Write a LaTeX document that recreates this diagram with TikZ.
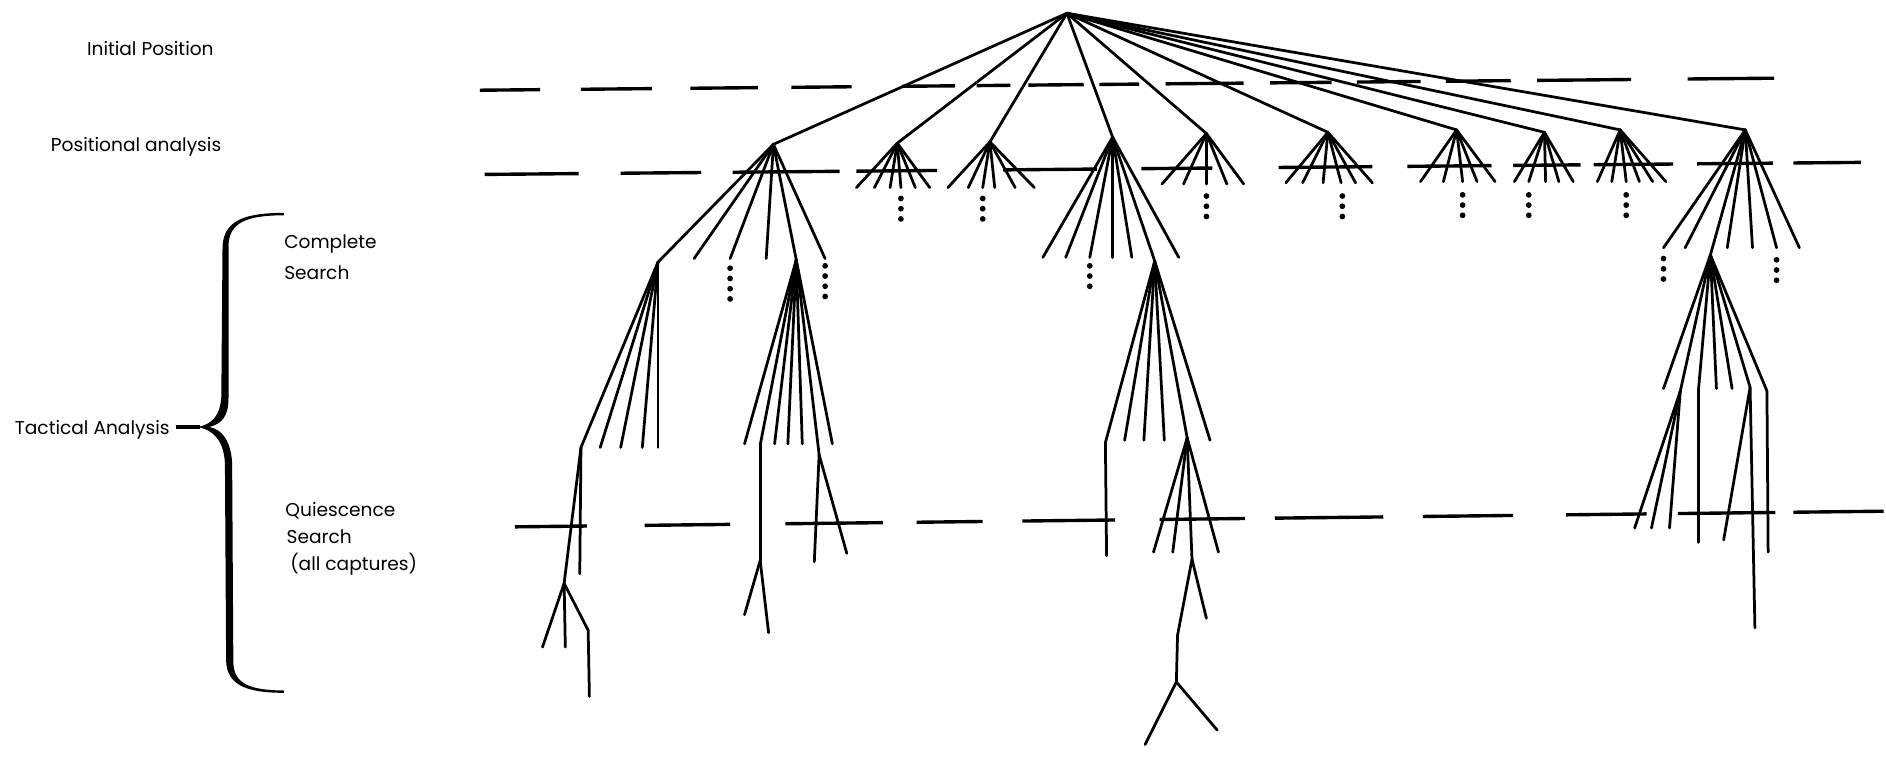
\documentclass[tikz,border=0pt]{standalone}
\usepackage{fontspec}
\setmainfont{Poppins}
\newcommand\myfan[4]{%
  \foreach \xx [count=\ii] in {#4} {\coordinate (#2\ii) at (\xx,#3); \draw[edge] (#1) -- (#2\ii);}}
\newcommand\vd[3]{%
  \foreach \kk in {1,...,#3} {\fill ({#1},{#2+8.5*(\kk-1)}) circle[radius=0.048cm];}}
\begin{document}
\begin{tikzpicture}[x=0.02cm,y=-0.02cm,
  edge/.style={line width=1.3pt, line cap=round, line join=round},
  dashseg/.style={line width=1.6pt},
  lbl/.style={font=\fontsize{8.8}{10}\selectfont, inner sep=0pt, anchor=west}]
\useasboundingbox (0,0) rectangle (1568,633);

% ---------- labels ----------
\node[lbl] (tinit) at (72,40) {Initial Position};
\node[lbl] (tpos) at (42,122) {Positional analysis};
\node[lbl, align=left, font=\fontsize{8.8}{14.7}\selectfont] (tcomp) at (236,214) {Complete\\Search};
\node[lbl] (ttac) at (12,357) {Tactical Analysis};
\node[lbl, align=left, font=\fontsize{8.8}{12.8}\selectfont] (tquie) at (237,448) {Quiescence\\\hspace{0.02cm}Search\\\hspace{0.08cm}(all captures)};

% ---------- brace ----------
\fill (236,177) .. controls (204,177) and (186,183) .. (185,205)
 -- (184,330) .. controls (183,346) and (176,353) .. (164,355)
 .. controls (177,357) and (186,366) .. (187,385)
 -- (188,550) .. controls (189,569) and (204,576) .. (236,576)
 -- (236,574) .. controls (207,574) and (194,568) .. (194,550)
 -- (193,385) .. controls (192,367) and (185,357) .. (174,355)
 .. controls (185,352) and (190,346) .. (190,330)
 -- (190,205) .. controls (190,185) and (205,179) .. (236,179) -- cycle;
\coordinate (bs) at (146,355);
\coordinate (bt) at (166,355);
\draw[line width=1.5pt] (bs) -- (bt);

% ---------- dashed level lines ----------
\foreach \a/\b in {399/449,483/542,574/630,658/708,750/794,812/840,855/901,914/947,969/1034,1056/1107,1128/1181,1202/1256,1278/1356,1403/1475}
  \draw[dashseg] (\a,{75-10*(\a-399)/1076}) -- (\b,{75-10*(\b-399)/1076});
\foreach \a/\b in {403/481,516/583,609/698,712/779,834/912,949/1008,1063/1141,1170/1240,1258/1314,1325/1391,1411/1474,1491/1547}
  \draw[dashseg] (\a,{145-10*(\a-403)/1144}) -- (\b,{145-10*(\b-403)/1144});
\foreach \a/\b in {428/488,536/607,653/734,762/817,850/927,964/1035,1060/1150,1183/1258,1302/1369,1395/1476,1491/1566}
  \draw[dashseg] (\a,{438-13*(\a-428)/1138}) -- (\b,{438-13*(\b-428)/1138});

% ---------- tree ----------
\coordinate (R) at (887,11);
\coordinate (A1) at (643,120);
\coordinate (A2) at (746,119);
\coordinate (A3) at (823,118);
\coordinate (A4) at (925,114);
\coordinate (A5) at (1003,111);
\coordinate (A6) at (1104,110);
\coordinate (A7) at (1211,108);
\coordinate (A8) at (1284,110);
\coordinate (A9) at (1347,108);
\coordinate (A10) at (1451,108);
\foreach \n in {A1,A2,A3,A4,A5,A6,A7,A8,A9,A10} \draw[edge] (R) -- (\n);

% small fans
\myfan{A2}{A2l}{156}{712,727,740,749,761,773}
\vd{749}{165}{3}
\myfan{A3}{A3l}{156}{788,805,817,827,844,860}
\vd{817}{165}{3}
\myfan{A5}{A5l}{153}{966,984,1003,1020,1034}
\vd{1003}{163}{3}
\myfan{A6}{A6l}{152}{1069,1083,1100,1115,1127,1141}
\vd{1116}{163}{3}
\myfan{A7}{A7l}{151}{1181,1200,1216,1228,1243}
\vd{1216}{162}{3}
\myfan{A8}{A8l}{151}{1259,1271,1285,1296,1308}
\vd{1271}{162}{3}
\myfan{A9}{A9l}{151}{1328,1340,1352,1363,1374,1385}
\vd{1352}{162}{3}

% A1 subtree
\coordinate (B1) at (547,218);
\coordinate (B2) at (662,216);
\draw[edge] (A1) -- (B1);
\draw[edge] (A1) -- (B2);
\myfan{A1}{A1l}{215}{577,607,637,686}
\vd{607}{223}{4}
\vd{686}{221}{4}
\coordinate (C1) at (483,372);
\draw[edge] (B1) -- (C1);
\myfan{B1}{B1l}{372}{499,516,534,547}
\coordinate (D1) at (469,485);
\coordinate (C1l) at (482,477);
\draw[edge] (C1) -- (D1);
\draw[edge] (C1) -- (C1l);
\coordinate (F1) at (489,524);
\coordinate (F1l) at (490,579);
\draw[edge] (D1) -- (F1) -- (F1l);
\myfan{D1}{D1l}{538}{451,470}
\coordinate (C2) at (632,370);
\coordinate (C3) at (681,378);
\draw[edge] (B2) -- (C2);
\draw[edge] (B2) -- (C3);
\myfan{B2}{B2l}{369}{619,644,655,667,692}
\coordinate (D2) at (632,466);
\draw[edge] (C2) -- (D2);
\coordinate (D2a) at (619,511);
\coordinate (D2b) at (639,526);
\draw[edge] (D2) -- (D2a);
\draw[edge] (D2) -- (D2b);
\coordinate (C3a) at (677,467);
\coordinate (C3b) at (704,460);
\draw[edge] (C3) -- (C3a);
\draw[edge] (C3) -- (C3b);

% A4 subtree
\coordinate (B3) at (960,217);
\draw[edge] (A4) -- (B3);
\myfan{A4}{A4l}{214}{867,886,906,925,941,980}
\vd{906}{221}{3}
\coordinate (C4) at (919,368);
\coordinate (C5) at (987,364);
\draw[edge] (B3) -- (C4);
\draw[edge] (B3) -- (C5);
\myfan{B3}{B3l}{366}{935,951,968,1006}
\coordinate (C4l) at (920,462);
\draw[edge] (C4) -- (C4l);
\coordinate (D5) at (991,465);
\draw[edge] (C5) -- (D5);
\myfan{C5}{C5l}{459}{959,975,1013}
\coordinate (D5a) at (1003,514);
\coordinate (G) at (979,528);
\coordinate (E) at (978,567);
\draw[edge] (D5) -- (D5a);
\draw[edge] (D5) -- (G) -- (E);
\coordinate (Ea) at (952,619);
\coordinate (Eb) at (1012,607);
\draw[edge] (E) -- (Ea);
\draw[edge] (E) -- (Eb);

% A10 subtree
\coordinate (B4) at (1422,212);
\draw[edge] (A10) -- (B4);
\myfan{A10}{A10l}{206}{1383,1401,1436,1457,1477,1496}
\vd{1383}{215}{3}
\vd{1477}{216}{3}
\coordinate (C6) at (1397,325);
\coordinate (K) at (1412,325);
\coordinate (Kl) at (1412,451);
\coordinate (C7) at (1455,322);
\coordinate (C8) at (1469,325);
\draw[edge] (B4) -- (C6);
\draw[edge] (B4) -- (K) -- (Kl);
\draw[edge] (B4) -- (C7);
\draw[edge] (B4) -- (C8);
\myfan{B4}{B4l}{323}{1383,1427,1440}
\myfan{C6}{C6l}{439}{1359,1373,1388}
\coordinate (C7a) at (1433,449);
\coordinate (C7b) at (1459,522);
\draw[edge] (C7) -- (C7a);
\draw[edge] (C7) -- (C7b);
\coordinate (C8l) at (1470,459);
\draw[edge] (C8) -- (C8l);
\end{tikzpicture}
\end{document}
